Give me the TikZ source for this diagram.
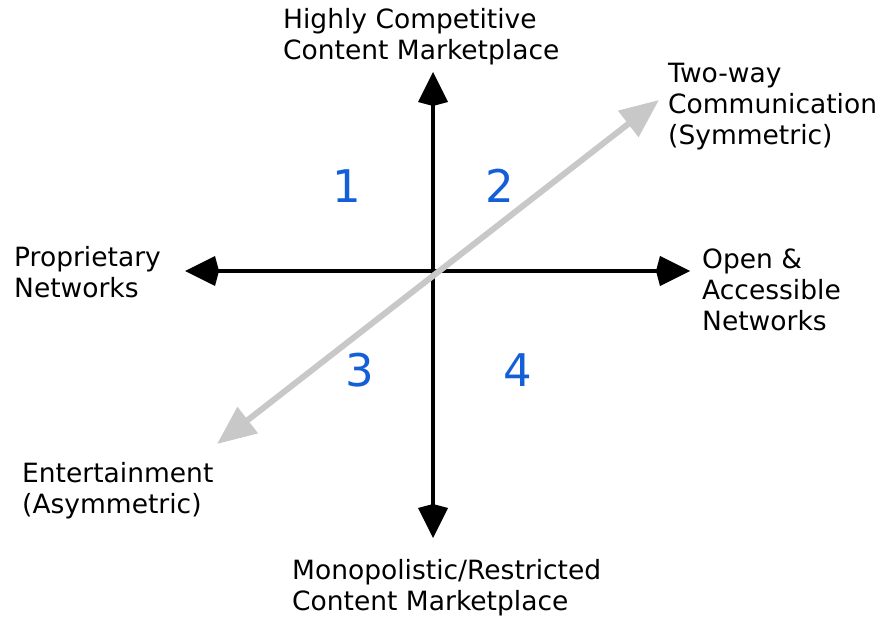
\documentclass[tikz,border=0pt]{standalone}
\usepackage{fontspec}
\setmainfont{DejaVu Sans}
\usetikzlibrary{arrows.meta}
\definecolor{numblue}{RGB}{20,95,215}
\definecolor{axisgray}{RGB}{200,200,200}
\tikzset{
  axis/.style={line width=3.2pt,black,{Kite[length=34pt,width=30pt,inset=4pt]}-{Kite[length=34pt,width=30pt,inset=4pt]}},
  diag/.style={line width=6pt,axisgray,{Triangle[length=39pt,width=32pt]}-{Triangle[length=39pt,width=32pt]}},
  lbl/.style={anchor=north west,inner sep=0pt,align=left,font=\fontsize{26.5}{31}\selectfont},
  num/.style={inner sep=0pt,text=numblue,font=\fontsize{45}{50}\selectfont}
}
\begin{document}
\begin{tikzpicture}[x=1pt,y=-1pt]
\useasboundingbox (0,0) rectangle (880,617);
\coordinate (top) at (433,72);
\coordinate (bottom) at (433,538);
\coordinate (left) at (185,271);
\coordinate (right) at (690,271);
\coordinate (dl) at (217,444);
\coordinate (ur) at (659,100);
\draw[axis] (bottom) -- (top);
\draw[axis] (left) -- (right);
\draw[diag] (dl) -- (ur);
\node[num] (n1) at (347,186) {1};
\node[num] (n2) at (500,186) {2};
\node[num] (n3) at (360,370) {3};
\node[num] (n4) at (518,370) {4};
\node[lbl] (hc) at (283,8) {Highly Competitive\\Content Marketplace};
\node[lbl] (tw) at (668,63) {Two-way\\Communication\\(Symmetric)};
\node[lbl] (pn) at (14,246) {Proprietary\\Networks};
\node[lbl] (oa) at (702,249) {Open \&\\Accessible\\Networks};
\node[lbl] (en) at (22,462) {Entertainment\\(Asymmetric)};
\node[lbl] (mr) at (292,559) {Monopolistic/Restricted\\Content Marketplace};
\end{tikzpicture}
\end{document}
